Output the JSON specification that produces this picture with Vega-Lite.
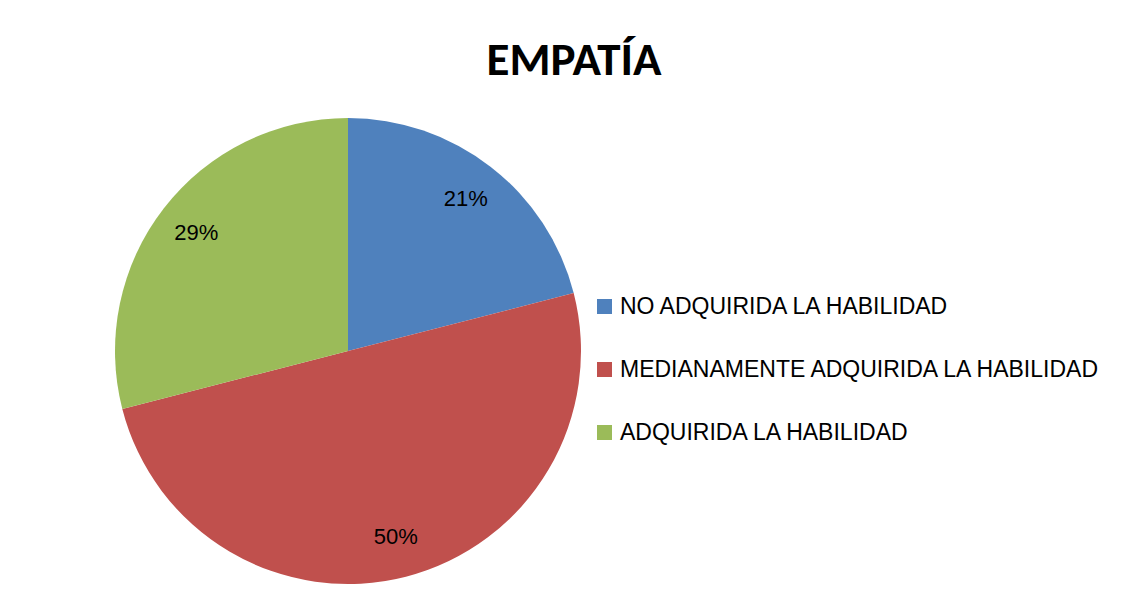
{
  "$schema": "https://vega.github.io/schema/vega-lite/v6.json",
  "width": 466,
  "height": 466,
  "autosize": "none",
  "padding": {"left": 115, "top": 118, "right": 545, "bottom": 18},
  "background": "white",
  "title": {
    "text": "EMPATÍA",
    "font": "Carlito, Lato, Liberation Sans",
    "fontSize": 47,
    "fontWeight": "bold",
    "color": "black",
    "anchor": "middle",
    "dx": 226,
    "dy": 44,
    "baseline": "alphabetic",
    "offset": 40
  },
  "data": {
    "values": [
      {"category": "NO ADQUIRIDA LA HABILIDAD", "value": 0.21, "order": 1},
      {"category": "MEDIANAMENTE ADQUIRIDA LA HABILIDAD", "value": 0.50, "order": 2},
      {"category": "ADQUIRIDA LA HABILIDAD", "value": 0.29, "order": 3}
    ]
  },
  "encoding": {
    "theta": {"field": "value", "type": "quantitative", "stack": true},
    "order": {"field": "order", "type": "quantitative"}
  },
  "layer": [
    {
      "mark": {"type": "arc", "outerRadius": 233},
      "encoding": {
        "color": {
          "field": "category",
          "type": "nominal",
          "scale": {
            "domain": ["NO ADQUIRIDA LA HABILIDAD", "MEDIANAMENTE ADQUIRIDA LA HABILIDAD", "ADQUIRIDA LA HABILIDAD"],
            "range": ["#4F81BD", "#C0504D", "#9BBB59"]
          },
          "legend": {
            "title": null,
            "orient": "none",
            "legendX": 478,
            "legendY": 177,
            "symbolType": "square",
            "symbolSize": 225,
            "symbolStrokeWidth": 0,
            "labelFont": "Liberation Sans",
            "labelFontSize": 23,
            "labelColor": "black",
            "labelOffset": 4,
            "rowPadding": 39,
            "labelLimit": 700,
            "padding": 0
          }
        }
      }
    },
    {
      "mark": {"type": "text", "radius": 192, "font": "Liberation Sans", "fontSize": 22, "color": "black"},
      "encoding": {
        "text": {"field": "value", "type": "quantitative", "format": ".0%"}
      }
    }
  ],
  "config": {"view": {"stroke": null}}
}
